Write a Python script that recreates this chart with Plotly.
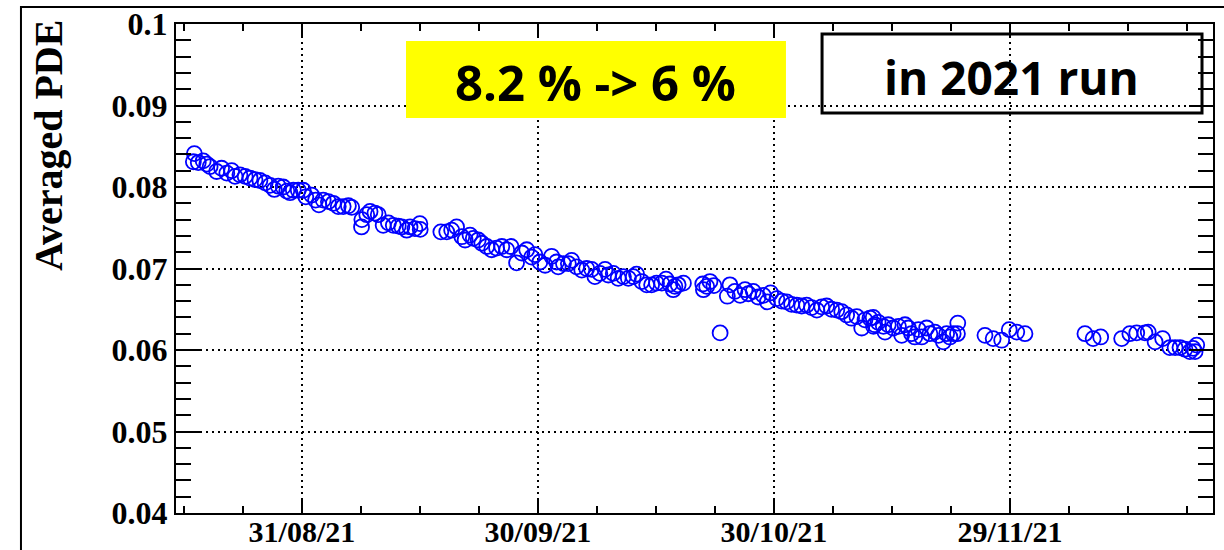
import plotly.graph_objects as go

# Averaged PDE measurements over the 2021 run
dates = [
    "2021-08-17 05:00", "2021-08-17 08:00", "2021-08-17 20:00", "2021-08-18 11:00",
    "2021-08-18 22:00", "2021-08-19 08:00", "2021-08-20 04:00", "2021-08-20 19:00",
    "2021-08-21 11:00", "2021-08-22 02:00", "2021-08-22 12:00", "2021-08-23 03:00",
    "2021-08-23 19:00", "2021-08-24 10:00", "2021-08-25 01:00", "2021-08-25 16:00",
    "2021-08-26 08:00", "2021-08-26 23:00", "2021-08-27 12:00", "2021-08-28 00:00",
    "2021-08-28 15:00", "2021-08-29 02:00", "2021-08-29 12:00", "2021-08-29 22:00",
    "2021-08-30 13:00", "2021-08-31 04:00", "2021-08-31 12:00", "2021-09-01 06:00",
    "2021-09-01 18:00", "2021-09-02 04:00", "2021-09-02 17:00", "2021-09-03 09:00",
    "2021-09-04 00:00", "2021-09-04 15:00", "2021-09-05 06:00", "2021-09-05 22:00",
    "2021-09-06 08:00",
    "2021-09-07 14:00", "2021-09-07 15:00", "2021-09-08 06:00", "2021-09-08 16:00",
    "2021-09-09 07:00", "2021-09-09 17:00", "2021-09-10 08:00", "2021-09-11 00:00",
    "2021-09-11 15:00", "2021-09-12 06:00", "2021-09-12 17:00", "2021-09-13 08:00",
    "2021-09-13 18:00", "2021-09-14 09:00", "2021-09-15 00:00", "2021-09-15 01:00",
    "2021-09-17 16:00", "2021-09-18 10:00", "2021-09-19 01:00", "2021-09-19 16:00",
    "2021-09-20 08:00", "2021-09-20 18:00", "2021-09-21 09:00", "2021-09-21 19:00",
    "2021-09-22 10:00", "2021-09-22 21:00", "2021-09-23 12:00", "2021-09-24 03:00",
    "2021-09-24 18:00", "2021-09-25 10:00", "2021-09-26 01:00", "2021-09-26 14:00",
    "2021-09-27 07:00", "2021-09-27 23:00", "2021-09-28 14:00", "2021-09-29 05:00",
    "2021-09-29 15:00", "2021-09-30 06:00", "2021-09-30 22:00", "2021-10-01 18:00",
    "2021-10-02 09:00", "2021-10-02 14:00", "2021-10-03 06:00", "2021-10-03 21:00",
    "2021-10-04 07:00", "2021-10-04 22:00", "2021-10-05 14:00", "2021-10-06 05:00",
    "2021-10-06 20:00", "2021-10-07 06:00", "2021-10-07 21:00", "2021-10-08 13:00",
    "2021-10-08 23:00", "2021-10-09 14:00", "2021-10-10 05:00", "2021-10-10 21:00",
    "2021-10-11 12:00", "2021-10-12 03:00", "2021-10-12 13:00", "2021-10-13 05:00",
    "2021-10-13 20:00", "2021-10-14 11:00", "2021-10-15 02:00", "2021-10-15 18:00",
    "2021-10-16 07:00", "2021-10-16 19:00", "2021-10-17 05:00", "2021-10-17 10:00",
    "2021-10-17 20:00", "2021-10-18 12:00",
    "2021-10-20 23:00", "2021-10-21 01:00", "2021-10-21 11:00", "2021-10-21 21:00",
    "2021-10-22 09:00", "2021-10-23 04:00", "2021-10-24 02:00", "2021-10-24 10:00",
    "2021-10-25 01:00", "2021-10-25 17:00", "2021-10-26 08:00", "2021-10-26 18:00",
    "2021-10-27 09:00", "2021-10-28 00:00", "2021-10-28 16:00", "2021-10-29 04:00",
    "2021-10-29 14:00", "2021-10-30 09:00", "2021-10-31 00:00", "2021-10-31 15:00",
    "2021-11-01 06:00", "2021-11-01 22:00", "2021-11-02 13:00", "2021-11-03 04:00",
    "2021-11-03 19:00", "2021-11-04 11:00", "2021-11-05 02:00", "2021-11-05 17:00",
    "2021-11-06 08:00", "2021-11-07 00:00", "2021-11-07 15:00", "2021-11-08 06:00",
    "2021-11-08 21:00", "2021-11-09 13:00", "2021-11-10 04:00", "2021-11-10 14:00",
    "2021-11-11 05:00", "2021-11-11 15:00", "2021-11-11 16:00", "2021-11-11 20:00",
    "2021-11-12 06:00", "2021-11-12 22:00", "2021-11-13 03:00", "2021-11-13 13:00",
    "2021-11-14 04:00", "2021-11-14 20:00", "2021-11-15 06:00", "2021-11-15 16:00",
    "2021-11-16 02:00", "2021-11-16 12:00", "2021-11-16 22:00", "2021-11-17 09:00",
    "2021-11-17 19:00", "2021-11-18 10:00", "2021-11-18 20:00", "2021-11-19 11:00",
    "2021-11-19 22:00", "2021-11-20 13:00", "2021-11-20 23:00", "2021-11-21 09:00",
    "2021-11-21 19:00", "2021-11-22 08:00", "2021-11-22 09:00",
    "2021-11-25 20:00", "2021-11-26 21:00", "2021-11-27 23:00", "2021-11-28 22:00",
    "2021-11-29 21:00", "2021-11-30 22:00",
    "2021-12-08 13:00", "2021-12-09 14:00", "2021-12-10 13:00",
    "2021-12-13 05:00", "2021-12-14 06:00", "2021-12-15 03:00", "2021-12-16 04:00",
    "2021-12-16 14:00", "2021-12-17 11:00", "2021-12-18 10:00", "2021-12-19 08:00",
    "2021-12-20 00:00", "2021-12-20 15:00", "2021-12-21 06:00", "2021-12-21 21:00",
    "2021-12-22 07:00", "2021-12-22 13:00", "2021-12-22 18:00",
]

pde = [
    0.0831, 0.0841, 0.0830, 0.0832,
    0.0828, 0.0825, 0.0819, 0.0823,
    0.0817, 0.0820, 0.0813, 0.0815,
    0.0813, 0.0811, 0.0809, 0.0808,
    0.0805, 0.0802, 0.0797, 0.0801,
    0.0800, 0.0795, 0.0793, 0.0796,
    0.0796, 0.0796, 0.0788, 0.0790,
    0.0784, 0.0778, 0.0784, 0.0782,
    0.0780, 0.0776, 0.0776, 0.0777,
    0.0775,
    0.0751, 0.0760, 0.0766, 0.0770,
    0.0768, 0.0766, 0.0753, 0.0756,
    0.0753, 0.0752, 0.0751, 0.0747,
    0.0751, 0.0749, 0.0755, 0.0748,
    0.0745, 0.0745, 0.0747, 0.0751,
    0.0739, 0.0735, 0.0741, 0.0737,
    0.0735, 0.0731, 0.0727, 0.0723,
    0.0725, 0.0727, 0.0723, 0.0727,
    0.0707, 0.0719, 0.0723, 0.0714,
    0.0717, 0.0708, 0.0704, 0.0715,
    0.0708, 0.0702, 0.0706, 0.0706,
    0.0710, 0.0702, 0.0698, 0.0700,
    0.0699, 0.0690, 0.0694, 0.0699,
    0.0692, 0.0694, 0.0688, 0.0690,
    0.0688, 0.0690, 0.0693, 0.0684,
    0.0680, 0.0680, 0.0682, 0.0682,
    0.0687, 0.0681, 0.0674, 0.0678,
    0.0680, 0.0682,
    0.0681, 0.0674, 0.0678, 0.0684,
    0.0679, 0.0621, 0.0666, 0.0680,
    0.0672, 0.0667, 0.0674, 0.0669,
    0.0672, 0.0665, 0.0667, 0.0659,
    0.0670, 0.0663, 0.0660, 0.0659,
    0.0656, 0.0655, 0.0654, 0.0655,
    0.0652, 0.0649, 0.0653, 0.0654,
    0.0650, 0.0649, 0.0647, 0.0643,
    0.0639, 0.0641, 0.0627, 0.0637,
    0.0639, 0.0640, 0.0629, 0.0631,
    0.0634, 0.0629, 0.0622, 0.0631,
    0.0627, 0.0629, 0.0618, 0.0631,
    0.0627, 0.0620, 0.0616, 0.0625,
    0.0616, 0.0627, 0.0620, 0.0622,
    0.0618, 0.0610, 0.0620, 0.0616,
    0.0620, 0.0620, 0.0633,
    0.0618, 0.0614, 0.0612, 0.0625,
    0.0622, 0.0620,
    0.0620, 0.0614, 0.0616,
    0.0614, 0.0620, 0.0621, 0.0621,
    0.0622, 0.0610, 0.0614, 0.0603,
    0.0603, 0.0603, 0.0601, 0.0598,
    0.0602, 0.0598, 0.0606,
]

x_tick_dates = ["2021-08-31", "2021-09-30", "2021-10-30", "2021-11-29"]
x_tick_text = ["31/08/21", "30/09/21", "30/10/21", "29/11/21"]
y_tick_vals = [0.04, 0.05, 0.06, 0.07, 0.08, 0.09, 0.1]
y_tick_text = ["0.04", "0.05", "0.06", "0.07", "0.08", "0.09", "0.1"]

x_range = ["2021-08-15 00:00", "2021-12-24 19:40"]
y_range = [0.04, 0.1]

SERIF = "Liberation Serif, Times New Roman, serif"
y_font = dict(family=SERIF, size=32, color="black", weight="bold")
x_font = dict(family=SERIF, size=30, color="black", weight="bold")

fig = go.Figure()
fig.add_trace(go.Scatter(
    x=dates, y=pde, mode="markers",
    marker=dict(symbol="circle-open", size=15, color="#0000ff",
                line=dict(color="#0000ff", width=1.8)),
    hoverinfo="x+y",
))

fig.update_layout(
    width=1224, height=550,
    margin=dict(l=176, r=11, t=24, b=37),
    paper_bgcolor="white", plot_bgcolor="white",
    showlegend=False,
)

fig.update_xaxes(
    type="date", range=x_range, automargin=False,
    tickmode="array", tickvals=x_tick_dates, ticktext=x_tick_text,
    tickfont=x_font, ticklabelstandoff=-9,
    ticks="inside", ticklen=14, tickwidth=2, tickcolor="black",
    showline=True, linecolor="black", linewidth=2, mirror="ticks",
    showgrid=True, gridcolor="black", gridwidth=2, griddash="2px,4px",
    zeroline=False,
    minor=dict(tick0="2021-08-31", dtick=648000000, ticks="inside",
               ticklen=7, tickwidth=2, tickcolor="black", showgrid=False),
)

fig.update_yaxes(
    range=y_range, automargin=False,
    tickmode="array", tickvals=y_tick_vals, ticktext=y_tick_text,
    tickfont=y_font,
    ticks="inside", ticklen=24, tickwidth=2, tickcolor="black",
    showline=True, linecolor="black", linewidth=2, mirror="ticks",
    showgrid=True, gridcolor="black", gridwidth=2, griddash="2px,4px",
    zeroline=False,
    minor=dict(tick0=0.04, dtick=0.002, ticks="inside",
               ticklen=15, tickwidth=2, tickcolor="black", showgrid=False),
)

# Outer canvas frame
fig.add_shape(type="rect", xref="paper", yref="paper",
              x0=-0.1495, x1=1.2, y0=-0.3, y1=1.0348,
              line=dict(color="black", width=2), fillcolor="rgba(0,0,0,0)",
              layer="above")

# Highlight box with the overall change
fig.add_shape(type="rect", xref="paper", yref="paper",
              x0=0.2218, x1=0.5882, y0=0.8078, y1=0.9652,
              line=dict(width=0), fillcolor="#ffff00", layer="above")
fig.add_annotation(xref="paper", yref="paper", x=0.4045, y=0.8814,
                   text="8.2 % -> 6 %", showarrow=False,
                   xanchor="center", yanchor="middle",
                   font=dict(family="Open Sans", size=49, color="black",
                             weight="bold"))

# Framed run label
fig.add_shape(type="rect", xref="paper", yref="paper",
              x0=0.623, x1=0.9894, y0=0.818, y1=0.9796,
              line=dict(color="black", width=3), fillcolor="rgba(0,0,0,0)",
              layer="above")
fig.add_annotation(xref="paper", yref="paper", x=0.806, y=0.891,
                   text="in 2021 run", showarrow=False,
                   xanchor="center", yanchor="middle",
                   font=dict(family="Open Sans", size=46, color="black",
                             weight="bold"))

# Y-axis title
fig.add_annotation(xref="paper", yref="paper", x=-0.1234, y=0.7505,
                   text="Averaged PDE", showarrow=False, textangle=-90,
                   xanchor="center", yanchor="middle",
                   font=dict(family=SERIF, size=40, color="black",
                             weight="bold"))

fig.write_html("out.html")
